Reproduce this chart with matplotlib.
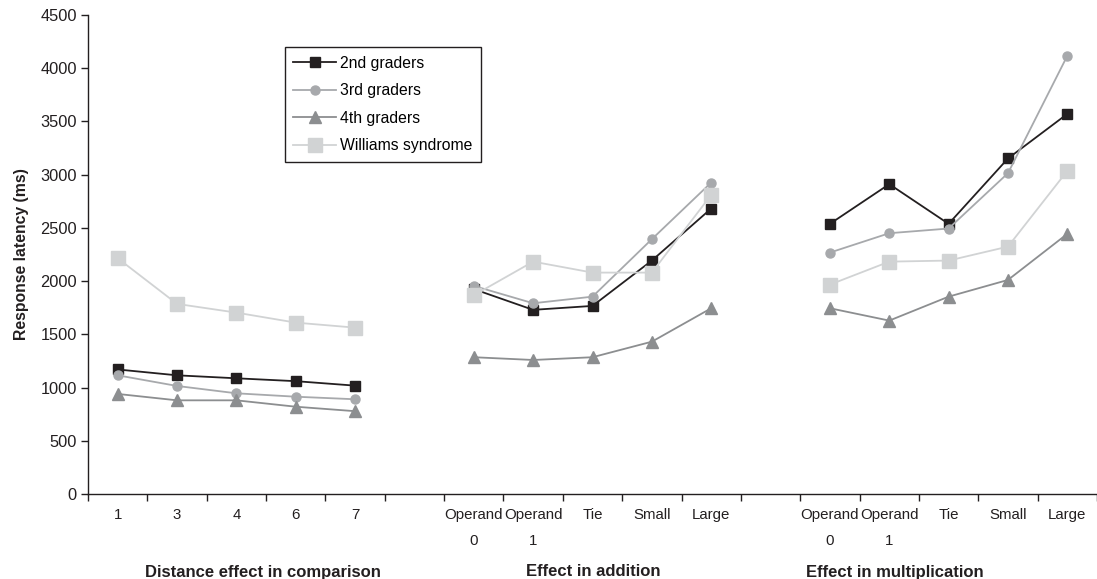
import matplotlib
matplotlib.use("Agg")
import matplotlib.pyplot as plt
import matplotlib.transforms as mtransforms
import numpy as np

plt.rcParams['font.family'] = ['Liberation Sans', 'DejaVu Sans']

# category labels (blank slots separate the three blocks)
cat_labels = ['1', '3', '4', '6', '7', '',
              'Operand\n0', 'Operand\n1', 'Tie', 'Small', 'Large', '',
              'Operand\n0', 'Operand\n1', 'Tie', 'Small', 'Large']
group_titles = ['Distance effect in comparison', 'Effect in addition', 'Effect in multiplication']

# values per block: comparison, addition, multiplication
g2_comp = [1170, 1115, 1087, 1060, 1018]
g2_add = [1925, 1730, 1767, 2193, 2682]
g2_mult = [2538, 2911, 2538, 3152, 3571]

g3_comp = [1115, 1015, 946, 914, 890]
g3_add = [1955, 1792, 1854, 2394, 2926]
g3_mult = [2268, 2450, 2494, 3014, 4117]

g4_comp = [940, 880, 880, 820, 778]
g4_add = [1285, 1259, 1285, 1431, 1745]
g4_mult = [1745, 1629, 1854, 2011, 2444]

ws_comp = [2215, 1786, 1704, 1610, 1563]
ws_add = [1867, 2183, 2080, 2080, 2810]
ws_mult = [1967, 2183, 2193, 2324, 3036]

series = [
    ('2nd graders', [g2_comp, g2_add, g2_mult], '#231f20', 's', 6.5),
    ('3rd graders', [g3_comp, g3_add, g3_mult], '#a7a9ac', 'o', 6.5),
    ('4th graders', [g4_comp, g4_add, g4_mult], '#8c8e90', '^', 8),
    ('Williams syndrome', [ws_comp, ws_add, ws_mult], '#d1d3d4', 's', 10),
]

fig = plt.figure(figsize=(10.97, 5.79), dpi=100)
ax = fig.add_axes([88/1097, 85/579, 1009/1097, 479/579])

block_start = [0, 6, 12]
for name, blocks, col, mk, ms in series:
    for b, (start, vals) in enumerate(zip(block_start, blocks)):
        x = np.arange(start, start + len(vals)) + 0.5
        ax.plot(x, vals, color=col, marker=mk, markersize=ms, linewidth=1.3,
                label=name if b == 0 else None, zorder=3)

ax.set_xlim(0, 17)
ax.set_ylim(0, 4500)
ax.set_yticks(np.arange(0, 4501, 500))
ax.set_xticks(np.arange(0, 18))
ax.set_xticklabels([])
ax.set_xticks(np.arange(17) + 0.5, minor=True)
ax.set_xticklabels(cat_labels, minor=True, linespacing=2.1)
ax.tick_params(axis='x', which='minor', length=0, pad=10, labelsize=10.8, colors='#231f20')
ax.tick_params(axis='x', which='major', length=5, width=1, direction='out', color='#231f20')
ax.tick_params(axis='y', length=5, width=1, direction='out', pad=3, labelsize=11.8,
               color='#231f20', labelcolor='#231f20')

for s in ['top', 'right']:
    ax.spines[s].set_visible(False)
for s in ['left', 'bottom']:
    ax.spines[s].set_color('#231f20')
    ax.spines[s].set_linewidth(1)

ax.set_ylabel('Response latency (ms)', fontsize=11.3, fontweight='bold', labelpad=8, color='#231f20')

# group titles sit under each block (centres, in slot units)
trans = mtransforms.blended_transform_factory(ax.transData, fig.transFigure)
for title, xc in zip(group_titles, [2.94, 8.52, 13.6]):
    ax.text(xc, 7/579, title, transform=trans, ha='center', va='center',
            fontsize=12, fontweight='bold', color='#231f20')

leg = ax.legend(loc='upper left', bbox_to_anchor=(0.195, 0.933), borderaxespad=0,
                fontsize=11.3, frameon=True, fancybox=False, edgecolor='#231f20', framealpha=1,
                handlelength=2.7, labelspacing=0.8, borderpad=0.55, handletextpad=0.25)
leg.get_frame().set_linewidth(1)

fig.savefig('out.png', dpi=100)
